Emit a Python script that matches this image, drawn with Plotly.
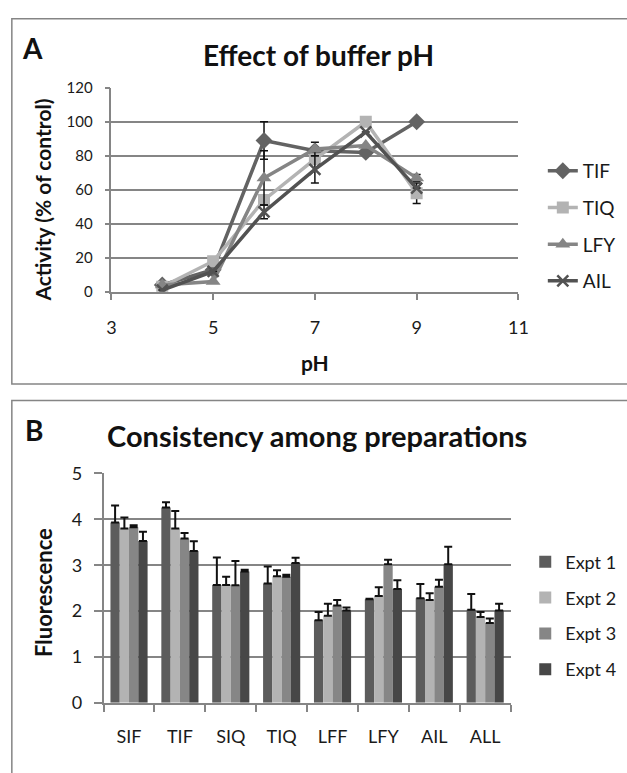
import plotly.graph_objects as go

W, H = 627, 773

# ---------------- Panel A data ----------------
ph = [4, 5, 6, 7, 8, 9]
tif = [4, 13, 89, 83, 82, 100]
tiq = [3, 18, 54, 78, 100, 58]
lfy = [4, 6, 67, 84, 86, 67]
ail = [1, 12, 47, 72, 94, 61]
tif_err = [None, None, 11, None, None, None]
tiq_err = [None, None, None, None, None, 6]
lfy_err = [None, None, 16, 4, None, 2]
ail_err = [None, None, 4, 8, None, None]

# ---------------- Panel B data ----------------
cats = ["SIF", "TIF", "SIQ", "TIQ", "LFF", "LFY", "AIL", "ALL"]
expt1 = [3.93, 4.26, 2.57, 2.60, 1.80, 2.26, 2.28, 2.03]
expt2 = [3.80, 3.80, 2.57, 2.76, 1.90, 2.33, 2.24, 1.87]
expt3 = [3.83, 3.58, 2.56, 2.75, 2.12, 3.02, 2.53, 1.74]
expt4 = [3.53, 3.31, 2.86, 3.05, 2.01, 2.48, 3.02, 2.01]
err1 = [0.37, 0.11, 0.60, 0.37, 0.18, 0.01, 0.31, 0.34]
err2 = [0.24, 0.38, 0.18, 0.13, 0.26, 0.19, 0.15, 0.11]
err3 = [0.04, 0.12, 0.53, 0.04, 0.12, 0.10, 0.15, 0.10]
err4 = [0.20, 0.21, 0.04, 0.11, 0.07, 0.19, 0.38, 0.15]

FONT = "Lato"
GRID = "#858585"
TXT = "#1a1a1a"

def px(x):
    return x / W

def py(y):
    return 1 - y / H

fig = go.Figure()

line_specs = [
    ("TIF", tif, tif_err, "#636363", "diamond", 13),
    ("TIQ", tiq, tiq_err, "#b3b3b3", "square", 12),
    ("LFY", lfy, lfy_err, "#858585", "triangle-up", 13),
    ("AIL", ail, ail_err, "#525252", "x-thin", 11),
]
for name, ys, errs, col, sym, sz in line_specs:
    marker = dict(symbol=sym, size=sz, color=col)
    if sym == "x-thin":
        marker["line"] = dict(color=col, width=2.5)
    fig.add_trace(go.Scatter(
        x=ph, y=ys, name=name, mode="lines+markers",
        line=dict(color=col, width=3.5), marker=marker,
        error_y=dict(type="data", array=errs, visible=True,
                     color="#111111", thickness=1.5, width=4),
        xaxis="x", yaxis="y", legend="legend", legendgroup=name,
    ))

bar_specs = [
    ("Expt 1", expt1, err1, "#5c5c5c"),
    ("Expt 2", expt2, err2, "#b3b3b3"),
    ("Expt 3", expt3, err3, "#868686"),
    ("Expt 4", expt4, err4, "#474747"),
]
for name, ys, errs, col in bar_specs:
    fig.add_trace(go.Bar(
        x=cats, y=ys, name=name, marker=dict(color=col, line=dict(width=0)),
        error_y=dict(type="data", array=errs, arrayminus=[0] * len(errs),
                     symmetric=False, visible=True,
                     color="#111111", thickness=2, width=4),
        xaxis="x2", yaxis="y2", legend="legend2", legendgroup=name,
    ))

axis_common = dict(showline=True, linecolor=GRID, linewidth=1.5,
                   ticks="outside", tickcolor=GRID, tickwidth=1.5,
                   zeroline=False, fixedrange=True)

fig.update_layout(
    width=W, height=H, autosize=False,
    margin=dict(l=0, r=0, t=0, b=0),
    paper_bgcolor="white", plot_bgcolor="white",
    font=dict(family=FONT, color=TXT),
    barmode="group", bargap=0.27, bargroupgap=0,
    xaxis=dict(domain=[px(109), px(526)], anchor="y", range=[3, 11],
               tickvals=[3, 5, 7, 9, 11], ticklen=6, showgrid=False,
               tickfont=dict(size=18, family=FONT, color=TXT),
               ticklabelstandoff=13, **axis_common),
    yaxis=dict(domain=[py(288), py(78)], anchor="x", range=[0, 120],
               tickvals=[0, 20, 40, 60, 80, 100, 120], ticklen=5,
               showgrid=True, gridcolor=GRID, gridwidth=1.6,
               tickfont=dict(size=15, family=FONT, color=TXT),
               ticklabelstandoff=9, **axis_common),
    xaxis2=dict(domain=[px(101), px(518)], anchor="y2", type="category",
                tickson="boundaries", ticklen=7, showgrid=False,
                tickfont=dict(size=18, family=FONT, color=TXT),
                ticklabelstandoff=17, **axis_common),
    yaxis2=dict(domain=[py(711), py(475)], anchor="x2", range=[0, 5],
                tickvals=[0, 1, 2, 3, 4, 5], ticklen=8,
                showgrid=True, gridcolor=GRID, gridwidth=1.6,
                tickfont=dict(size=18, family=FONT, color=TXT),
                ticklabelstandoff=8, **axis_common),
    legend=dict(x=px(551), y=py(144), xanchor="left", yanchor="top",
                font=dict(size=19, family=FONT, color=TXT),
                tracegroupgap=9, bgcolor="rgba(0,0,0,0)"),
    legend2=dict(x=px(533), y=py(547), xanchor="left", yanchor="top",
                 font=dict(size=18, family=FONT, color=TXT),
                 tracegroupgap=9.5, bgcolor="rgba(0,0,0,0)"),
    showlegend=True,
)

# panel frames
fig.add_shape(type="rect", xref="paper", yref="paper",
              x0=px(7), x1=1.02, y0=py(383), y1=py(7),
              line=dict(color=GRID, width=1.5))
fig.add_shape(type="rect", xref="paper", yref="paper",
              x0=px(7), x1=1.02, y0=-0.02, y1=py(400),
              line=dict(color=GRID, width=1.5))

ann = [
    dict(text="<b>A</b>", x=px(28), y=py(37), size=28, angle=0),
    dict(text="<b>Effect of buffer pH</b>", x=px(321), y=py(44), size=28, angle=0),
    dict(text="<b>Activity (% of control)</b>", x=px(38), y=py(194), size=21, angle=-90),
    dict(text="<b>pH</b>", x=px(318), y=py(361), size=21, angle=0),
    dict(text="<b>B</b>", x=px(30), y=py(430), size=28, angle=0),
    dict(text="<b>Consistency among preparations</b>", x=px(320), y=py(436), size=29, angle=0),
    dict(text="<b>Fluorescence</b>", x=px(40), y=py(598), size=22, angle=-90),
]
for a in ann:
    fig.add_annotation(text=a["text"], x=a["x"], y=a["y"], xref="paper", yref="paper",
                       showarrow=False, textangle=a["angle"], xanchor="center", yanchor="middle",
                       font=dict(size=a["size"], family=FONT, color="#111111"))

fig.write_html("out.html")
